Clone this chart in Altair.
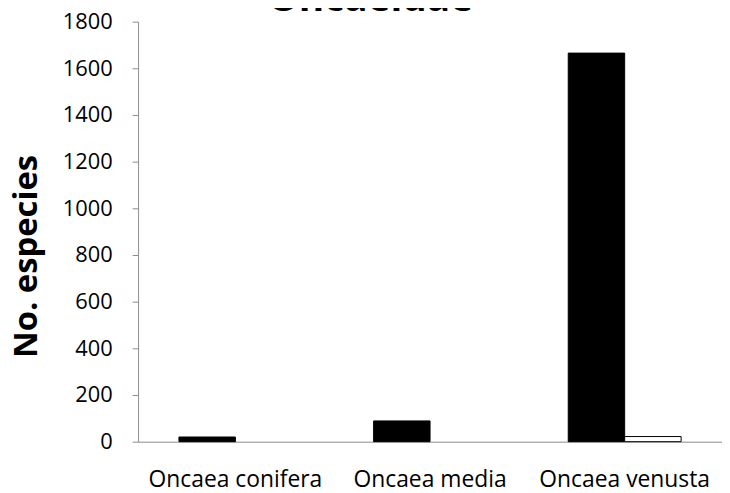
import altair as alt
import pandas as pd

species = ["Oncaea conifera", "Oncaea media", "Oncaea venusta"]
series_names = ["A", "B"]
values_a = [20, 89, 1665]
values_b = [0, 0, 22]
y_ticks = [0, 200, 400, 600, 800, 1000, 1200, 1400, 1600, 1800]

rows = []
for i, sp in enumerate(species):
    rows.append({"species": sp, "series": series_names[0], "value": values_a[i]})
    rows.append({"species": sp, "series": series_names[1], "value": values_b[i]})
df = pd.DataFrame(rows)

FONT = "Open Sans"
AX = "#8c8c8c"

chart = alt.Chart(df).mark_bar(stroke="black", strokeWidth=1).encode(
    x=alt.X("species:N", sort=species,
            scale=alt.Scale(paddingInner=0.42, paddingOuter=0.21),
            axis=alt.Axis(title=None, labelAngle=0, ticks=False, labelFontSize=23,
                          labelPadding=27, domainColor=AX, labelColor="black",
                          labelFont=FONT)),
    xOffset=alt.XOffset("series:N", sort=series_names,
                        scale=alt.Scale(paddingInner=0, paddingOuter=0)),
    y=alt.Y("value:Q", scale=alt.Scale(domain=[0, 1800], nice=False),
            axis=alt.Axis(values=y_ticks, format="d", grid=False, tickSize=6, tickColor=AX,
                          domainColor=AX, labelPadding=20, labelFontSize=22,
                          labelColor="black", labelFont=FONT,
                          title="No. especies", titleFont=FONT, titleFontSize=33,
                          titleFontWeight="bold", titleColor="black",
                          titleAngle=270, titleX=-112, titleY=236,
                          titleAlign="center", titleBaseline="middle")),
    fill=alt.Color("series:N", scale=alt.Scale(domain=series_names, range=["black", "white"]),
                   legend=None),
    strokeOpacity=alt.condition(alt.datum.value > 0, alt.value(1), alt.value(0)),
).properties(
    width=588, height=423,
    title=alt.TitleParams("Oncaeidae", font=FONT, fontSize=39, fontWeight="bold",
                          color="black", anchor="middle", frame="group",
                          baseline="alphabetic", offset=8, dx=-60, dy=47),
    autosize=alt.AutoSizeParams(type="none"),
    padding={"left": 131, "top": 12, "right": 0, "bottom": 55},
).configure_view(stroke=None)

chart.save("out.html", embed_options={"renderer": "svg", "actions": False})
